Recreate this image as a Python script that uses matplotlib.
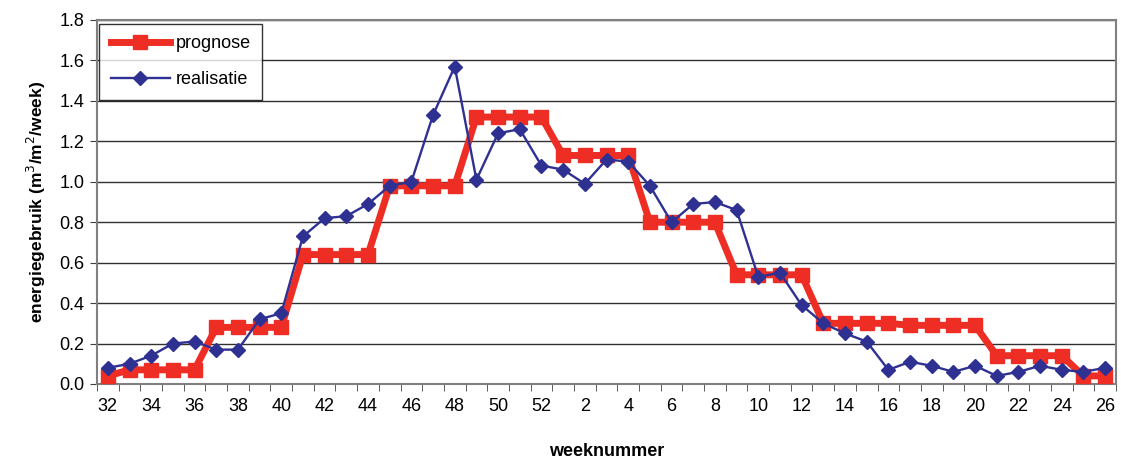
import matplotlib
matplotlib.use('Agg')
from matplotlib import pyplot as plt

weeks = list(range(32, 53)) + list(range(1, 27))

prognose = [0.04, 0.07, 0.07, 0.07, 0.07, 0.28, 0.28, 0.28, 0.28, 0.64, 0.64,
            0.64, 0.64, 0.98, 0.98, 0.98, 0.98, 1.32, 1.32, 1.32, 1.32,
            1.13, 1.13, 1.13, 1.13, 0.80, 0.80, 0.80, 0.80, 0.54, 0.54, 0.54, 0.54,
            0.30, 0.30, 0.30, 0.30, 0.29, 0.29, 0.29, 0.29, 0.14, 0.14, 0.14, 0.14,
            0.04, 0.04]

realisatie = [0.08, 0.10, 0.14, 0.20, 0.21, 0.17, 0.17, 0.32, 0.35, 0.73, 0.82,
              0.83, 0.89, 0.98, 1.00, 1.33, 1.57, 1.01, 1.24, 1.26, 1.08,
              1.06, 0.99, 1.11, 1.10, 0.98, 0.80, 0.89, 0.90, 0.86, 0.53, 0.55, 0.39,
              0.30, 0.25, 0.21, 0.07, 0.11, 0.09, 0.06, 0.09, 0.04, 0.06, 0.09, 0.07,
              0.06, 0.08]

plt.rcParams['font.family'] = ['Liberation Sans', 'DejaVu Sans']

x = list(range(len(weeks)))

fig = plt.figure(figsize=(11.21, 4.63), dpi=100)
ax = fig.add_axes([97 / 1121, 1 - 384 / 463, (1116 - 97) / 1121, (384 - 20) / 463])

ax.plot(x, prognose, '-s', color='#EE2E24', lw=5, ms=10, label='prognose', zorder=3)
ax.plot(x, realisatie, '-D', color='#2E3192', lw=1.7, ms=7.5, label='realisatie', zorder=4)

ax.set_xlim(-0.5, len(weeks) - 0.5)
ax.set_ylim(0, 1.8)
ax.set_yticks([i * 0.2 for i in range(10)])
ax.set_yticklabels(['%.1f' % (i * 0.2) for i in range(10)], fontsize=13)

ax.set_xticks(x[::2])
ax.set_xticklabels([str(w) for w in weeks[::2]], fontsize=13)
ax.set_xticks([i - 0.5 for i in range(len(weeks) + 1)], minor=True)
ax.tick_params(axis='x', which='major', length=0, pad=10)
ax.tick_params(axis='x', which='minor', length=5, color='#404040')
ax.tick_params(axis='y', length=5, color='#404040', pad=4)

ax.yaxis.grid(True, color='#303030', lw=1)
ax.set_axisbelow(True)
for s in ax.spines.values():
    s.set_color('#808080')
    s.set_linewidth(1.5)

ax.set_ylabel('energiegebruik (m$^3$/m$^2$/week)', fontsize=12.5, fontweight='bold', labelpad=8)
ax.set_xlabel('weeknummer', fontsize=13, fontweight='bold', labelpad=20)

leg = ax.legend(loc='upper left', bbox_to_anchor=(0.0, 0.995), fontsize=13, frameon=True,
                fancybox=False, edgecolor='black', handlelength=3.3, borderpad=0.65,
                labelspacing=1.05, handletextpad=0.3, borderaxespad=0.1)
leg.get_frame().set_linewidth(1)

fig.savefig('out.png', dpi=100)
